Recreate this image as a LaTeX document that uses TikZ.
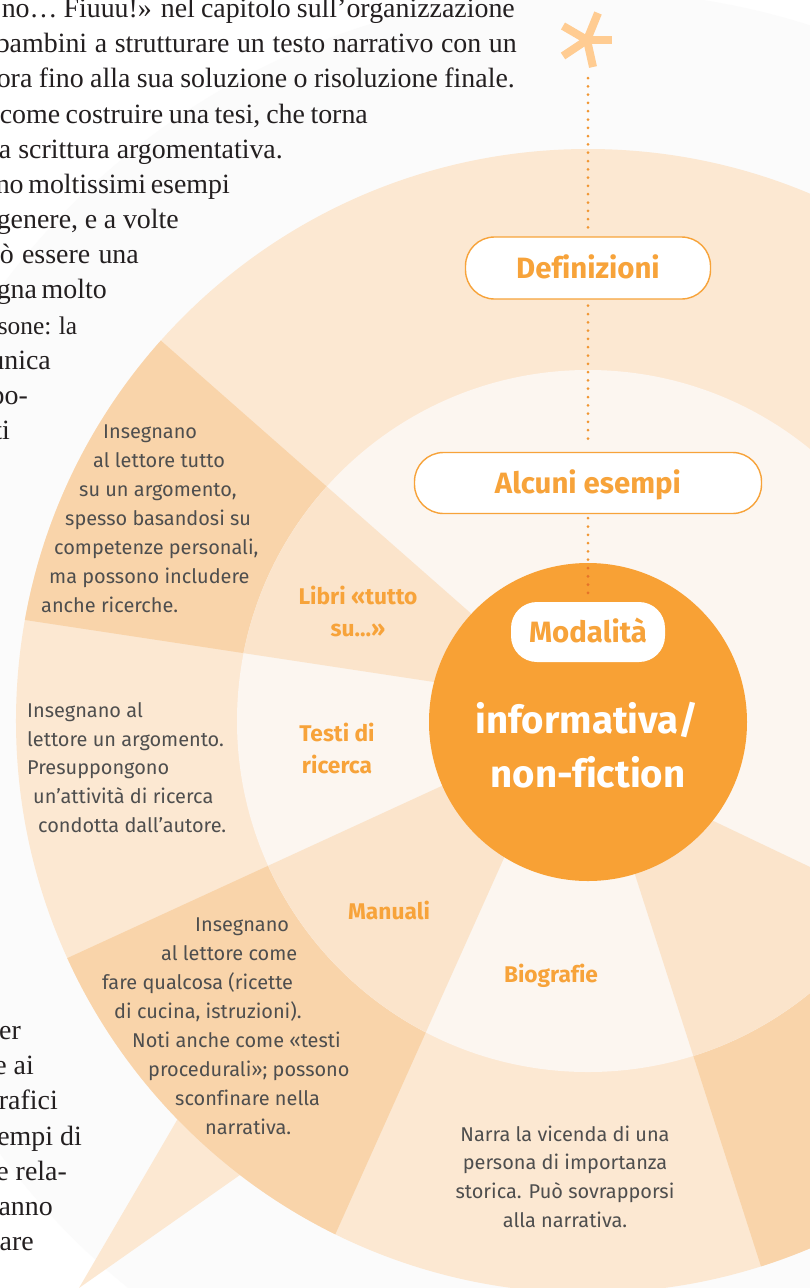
\documentclass[tikz,border=0pt]{standalone}
\usepackage{fontspec}
\setmainfont{Liberation Serif}
\newfontfamily\fira{Fira Sans}[Ligatures=NoCommon]
\definecolor{ringlight}{RGB}{252,232,210}
\definecolor{wedgedark}{RGB}{249,212,170}
\definecolor{innerwhite}{RGB}{252,246,240}
\definecolor{wedgelight}{RGB}{251,228,203}
\definecolor{orangemain}{RGB}{248,161,53}
\definecolor{labelorange}{RGB}{247,163,58}
\definecolor{dotorange}{RGB}{241,150,50}
\definecolor{dotdark}{RGB}{230,115,40}
\definecolor{greytext}{RGB}{78,78,78}
\definecolor{bodyblack}{RGB}{35,31,32}
\definecolor{asteriskcol}{RGB}{255,204,146}
\definecolor{faint}{RGB}{251,251,251}
\newcommand{\jline}[2]{\makebox[#1bp][s]{#2}}
\begin{document}
\begin{tikzpicture}[x=1bp,y=-1bp,
  serifline/.style={anchor=base east, inner sep=0pt, text=bodyblack, font=\fontsize{28}{35}\selectfont},
  desc/.style={anchor=base west, inner sep=0pt, text=greytext, font=\fira\fontsize{20}{29}\selectfont},
  descc/.style={desc, anchor=base},
  lbl/.style={anchor=base, inner sep=0pt, text=labelorange, font=\fira\bfseries\fontsize{22.8}{32}\selectfont},
  pill/.style={draw=labelorange, line width=1.4bp, fill=white, rounded corners=29bp, text=labelorange, font=\fira\bfseries\fontsize{29.5}{32}\selectfont, text height=20.3bp, text depth=0bp, inner sep=0pt},
  bigtxt/.style={anchor=base, inner sep=0pt, text=white, font=\fira\bfseries\fontsize{38.5}{54}\selectfont},
  dotline/.style={dotorange, line width=3bp, line cap=round, dash pattern=on 0bp off 8.3bp},
  astarm/.style={asteriskcol, line width=8bp}
]
\useasboundingbox (0,0) rectangle (810,1288);
\clip (0,0) rectangle (810,1288);
\fill[white] (0,0) rectangle (810,1288);
\coordinate (C) at (588,721);
\fill[faint] (C) circle[radius=730bp];
% tail
\fill[ringlight] (79,1288) -- (201,1079) -- (294,1137) -- cycle;
% outer ring
\fill[ringlight] (C) circle[radius=572bp];
% wedge boundary points
\coordinate (Ain) at (500,639);  \coordinate (Aout) at (-100,111);
\coordinate (Bin) at (500,692);  \coordinate (Bout) at (-100,601);
\coordinate (Cin) at (520,750);  \coordinate (Cout) at (-100,1035);
\coordinate (Din) at (530,800);  \coordinate (Dout) at (261,1400);
\coordinate (Ein) at (611,800);  \coordinate (Eout) at (804,1400);
\coordinate (Fin) at (640,786);  \coordinate (Fout) at (1400,1148);
\begin{scope}
  \clip (C) circle[radius=572bp];
  \fill[wedgedark] (Ain) -- (Aout) -- (Bout) -- (Bin) -- cycle;
  \fill[wedgedark] (Cin) -- (Cout) -- (Dout) -- (Din) -- cycle;
  \fill[wedgedark] (Ein) -- (Eout) -- (Fout) -- (Fin) -- cycle;
\end{scope}
\fill[innerwhite] (C) circle[radius=351bp];
\begin{scope}
  \clip (C) circle[radius=351bp];
  \fill[wedgelight] (Ain) -- (Aout) -- (Bout) -- (Bin) -- cycle;
  \fill[wedgelight] (Cin) -- (Cout) -- (Dout) -- (Din) -- cycle;
  \fill[wedgelight] (Ein) -- (Eout) -- (Fout) -- (Fin) -- cycle;
\end{scope}
\coordinate (OC) at (588,722);
\fill[orangemain] (OC) circle[radius=159bp];

% asterisk
\coordinate (astc) at (587,40);
\foreach \p in {(598,13),(612,40),(593,67),(563,56),(563,26)}
  \draw[astarm] (astc) -- \p;

% body text (serif)
\node[serifline] (s1) at (515,17.5) {\jline{513}{no… Fiuuu!» nel capitolo sull’organizzazione}};
\node[serifline] (s2) at (517,52.7) {\jline{521}{bambini a strutturare un testo narrativo con un}};
\node[serifline] (s3) at (515,87.8) {\jline{518}{ora fino alla sua soluzione o risoluzione finale.}};
\node[serifline] (s4) at (368,123) {\jline{368}{come costruire una tesi, che torna}};
\node[serifline] (s5) at (283,158.2) {\jline{284}{a scrittura argomentativa.}};
\node[serifline] (s6) at (227,193.4) {\jline{231}{no moltissimi esempi}};
\node[serifline] (s7) at (179,228.5) {\jline{182}{genere, e a volte}};
\node[serifline] (s8) at (139,263.7) {\jline{139}{ò essere una}};
\node[serifline] (s9) at (106,298.9) {\jline{109}{gna molto}};
\node[serifline, font=\fontsize{25.5}{35}\selectfont] (s10) at (77,334) {\jline{79}{sone: la}};
\node[serifline] (s11) at (51,369.2) {unica};
\node[serifline] (s12) at (28,404.4) {po-};
\node[serifline] (s13) at (10,439.5) {ti};
\node[serifline] (b1) at (21,1039) {er};
\node[serifline] (b2) at (34,1074) {e ai};
\node[serifline] (b3) at (58,1109) {rafici};
\node[serifline] (b4) at (82,1145) {empi di};
\node[serifline] (b5) at (67,1180) {e rela-};
\node[serifline] (b6) at (53,1215) {anno};
\node[serifline] (b7) at (34,1250) {are};

% descriptions
\node[desc] (l1) at (103,438) {Insegnano};
\node[desc] (l2) at (93,467) {al lettore tutto};
\node[desc] (l3) at (79,496) {su un argomento,};
\node[desc] (l4) at (65,525) {spesso basandosi su};
\node[desc] (l5) at (54,554) {competenze personali,};
\node[desc] (l6) at (49,583) {ma possono includere};
\node[desc] (l7) at (41,612) {anche ricerche.};

\node[desc] (r1) at (27,717) {Insegnano al};
\node[desc] (r2) at (27,746) {lettore un argomento.};
\node[desc] (r3) at (27,774) {Presuppongono};
\node[desc] (r4) at (33,803) {un’attività di ricerca};
\node[desc] (r5) at (38,832) {condotta dall’autore.};

\node[desc] (m1) at (195,931) {Insegnano};
\node[desc] (m2) at (161,960) {al lettore come};
\node[desc] (m3) at (102,989) {fare qualcosa (ricette};
\node[desc] (m4) at (114,1018) {di cucina, istruzioni).};
\node[desc] (m5) at (132,1047) {Noti anche come «testi};
\node[desc] (m6) at (148,1076) {procedurali»; possono};
\node[desc] (m7) at (175,1105) {sconfinare nella};
\node[desc] (m8) at (205,1134) {narrativa.};

\node[descc] (g1) at (565,1141) {Narra la vicenda di una};
\node[descc] (g2) at (565,1169) {persona di importanza};
\node[descc] (g3) at (565,1198) {storica. Può sovrapporsi};
\node[descc] (g4) at (565,1227) {alla narrativa.};

% labels
\node[lbl] (libri1) at (358,604) {Libri «tutto};
\node[lbl] (libri2) at (358,636) {su…»};
\node[lbl] (testi1) at (337,741) {Testi di};
\node[lbl] (testi2) at (337,773) {ricerca};
\node[lbl] (manuali) at (389,919) {Manuali};
\node[lbl] (biografie) at (551,982) {Biografie};

% pills
\node[pill, minimum width=245bp, minimum height=62bp] (def) at (588,268) {Definizioni};
\node[pill, minimum width=347bp, minimum height=61bp] (alc) at (588,483) {Alcuni esempi};
\node[pill, draw=none, minimum width=154bp, minimum height=60bp, rounded corners=26bp] (mod) at (588,632) {Modalità};

% big text
\node[bigtxt] (info) at (587,733) {informativa/};
\node[bigtxt] (nonf) at (588,787) {non-fiction};

% dotted connectors
\coordinate (ast) at (588,78);
\draw[dotline, shorten >=6bp] (ast) -- (def.north);
\draw[dotline, shorten <=6bp, shorten >=6bp] (def.south) -- (alc.north);
\draw[dotline, shorten <=4bp, shorten >=5bp] (alc.south) -- (mod.north);
\begin{scope}
  \clip (OC) circle[radius=159bp];
  \draw[dotline, dotdark, shorten <=4bp, shorten >=5bp] (alc.south) -- (mod.north);
\end{scope}
\end{tikzpicture}
\end{document}
